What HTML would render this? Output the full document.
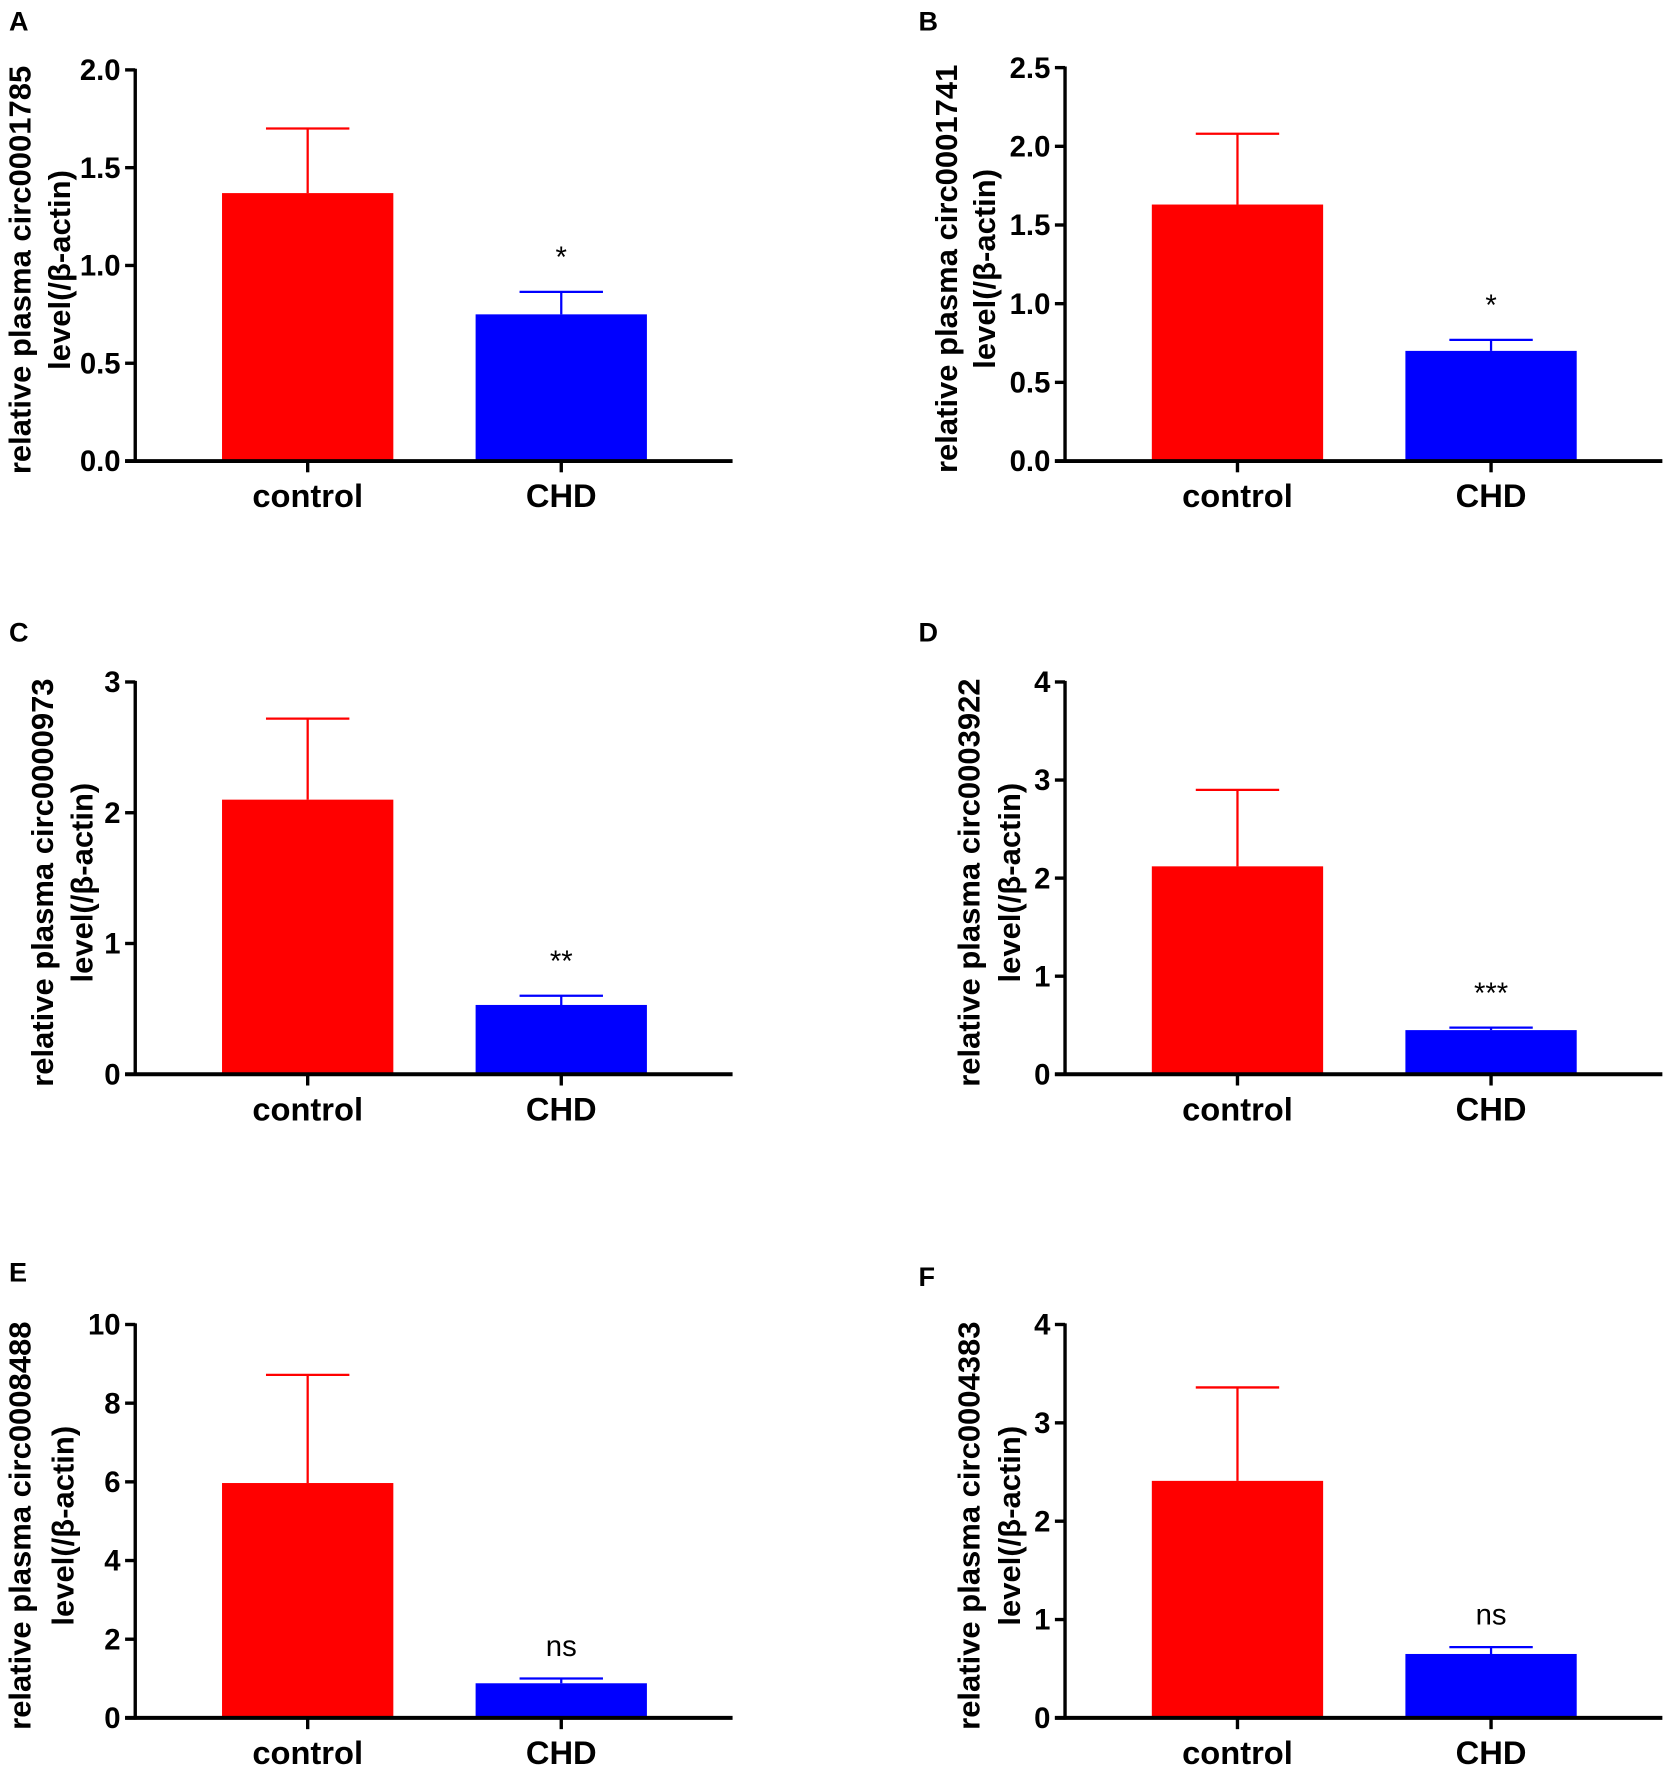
<!DOCTYPE html>
<html><head><meta charset="utf-8">
<style>
html,body{margin:0;padding:0;background:#fff;}
svg{display:block;}
text{font-family:"Liberation Sans",sans-serif;}
.tick{font-family:"Liberation Sans Narrow","Liberation Sans",sans-serif;font-weight:bold;font-size:26px;}
.cat{font-family:"Liberation Sans Narrow","Liberation Sans",sans-serif;font-weight:bold;font-size:29px;}
.ttl{font-weight:bold;font-size:27.5px;}
.plet{font-weight:bold;font-size:24px;}
.sig{font-size:26px;}
</style></head>
<body>
<svg id="fig" width="1668" height="1772" viewBox="0 0 1480 1572" preserveAspectRatio="none" xmlns="http://www.w3.org/2000/svg"></svg>
<script>
// data per panel
const panelLetters = ["A","B","C","D","E","F"];
const circNames = ["circ0001785","circ0001741","circ0000973","circ0003922","circ0008488","circ0004383"];
const categories = ["control","CHD"];
const controlMeans = [1.37,1.63,2.10,2.12,5.97,2.41];
const controlErr = [0.33,0.45,0.62,0.78,2.75,0.95];
const chdMeans = [0.75,0.70,0.53,0.45,0.88,0.65];
const chdErr = [0.115,0.07,0.07,0.025,0.12,0.07];
const yMaxes = [2.0,2.5,3,4,10,4];
const tickLabelsA = ["0.0","0.5","1.0","1.5","2.0"];
const tickLabelsB = ["0.0","0.5","1.0","1.5","2.0","2.5"];
const tickLabelsC = ["0","1","2","3"];
const tickLabelsD = ["0","1","2","3","4"];
const tickLabelsE = ["0","2","4","6","8","10"];
const tickLabelsF = ["0","1","2","3","4"];
const sigLabels = ["*","*","**","***","ns","ns"];

const tickSets = [tickLabelsA,tickLabelsB,tickLabelsC,tickLabelsD,tickLabelsE,tickLabelsF];
// layout (not data)
const layout = [
 {ax:120, top:62, bot:409, letX:8, letY:27, t1:17, t2:52},
 {ax:945, top:60, bot:409, letX:815, letY:27, t1:839, t2:873},
 {ax:120, top:605, bot:953, letX:8, letY:569, t1:37, t2:72},
 {ax:945, top:605, bot:953, letX:815, letY:569, t1:859, t2:895},
 {ax:120, top:1175, bot:1524, letX:8, letY:1137, t1:17, t2:55},
 {ax:945, top:1175, bot:1524, letX:815, letY:1141, t1:859, t2:895}
];
const NS="http://www.w3.org/2000/svg";
const svg=document.getElementById('fig');
function mk(tag,attrs,parent){const e=document.createElementNS(NS,tag);for(const k in attrs)e.setAttribute(k,attrs[k]);(parent||svg).appendChild(e);return e;}

layout.forEach((L,i)=>{
  const g=mk('g',{});
  
  
  const yScale=v=>L.bot-(v/yMaxes[i])*(L.bot-L.top);
  const xLeft=L.ax, xRight=L.ax+530;
  const barW=152;
  const xCenter=k=>L.ax+153+k*225;
  const pl=mk('text',{x:L.letX,y:L.letY,class:'plet'},g);pl.textContent=panelLetters[i];
  
  
  const means=[controlMeans[i],chdMeans[i]], errs=[controlErr[i],chdErr[i]], cols=['#ff0000','#0000ff'];
  means.forEach((m,k)=>{
    const cx=xCenter(k);
    const r=mk('rect',{x:cx-barW/2,y:yScale(m),width:barW,height:L.bot-yScale(m),fill:cols[k]},g);
    
    
    const eb=mk('path',{d:`M${cx},${yScale(m)}V${yScale(m+errs[k])}M${cx-37},${yScale(m+errs[k])}H${cx+37}`,stroke:cols[k],'stroke-width':2,fill:'none'},g);
    
    
    const c=mk('text',{x:cx,y:L.bot+41,'text-anchor':'middle',class:'cat'},g);c.textContent=categories[k];
    
    
    mk('line',{x1:cx,x2:cx,y1:L.bot,y2:L.bot+10,stroke:'#000','stroke-width':3},g);
  });
  const s=mk('text',{x:xCenter(1),y:yScale(chdMeans[i]+chdErr[i])-(sigLabels[i]==='ns'?20:22),'text-anchor':'middle',class:'sig'},g);
  s.textContent=sigLabels[i];
  
  
  const ya=mk('line',{x1:xLeft,x2:xLeft,y1:L.top-1,y2:L.bot+1.5,stroke:'#000','stroke-width':3},g);
  
  
  const xa=mk('line',{x1:xLeft-9,x2:xRight,y1:L.bot,y2:L.bot,stroke:'#000','stroke-width':3.5},g);
  
  
  const ticks=tickSets[i];
  ticks.forEach((t,j)=>{
    const v=parseFloat(t), y=yScale(v);
    mk('line',{x1:xLeft-9,x2:xLeft,y1:y,y2:y,stroke:'#000','stroke-width':3},g);
    const tl=mk('text',{x:xLeft-13,y:y+9,'text-anchor':'end',class:'tick'},g);tl.textContent=t;
    
    
  });
  const cy=(L.top+L.bot)/2+4;
  const t1=mk('text',{x:0,y:0,'text-anchor':'middle',class:'ttl',transform:`translate(${L.t1+10},${cy}) rotate(-90)`},g);
  t1.textContent='relative plasma '+circNames[i];
  
  
  const t2=mk('text',{x:0,y:0,'text-anchor':'middle',class:'ttl',transform:`translate(${L.t2+10},${cy}) rotate(-90)`},g);
  t2.textContent='level(/β-actin)';
  
  
});
</script>
</body></html>
